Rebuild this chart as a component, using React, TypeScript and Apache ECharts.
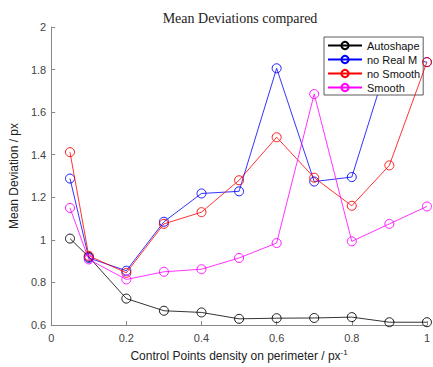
import React, { useEffect, useRef } from "react";
import * as echarts from "echarts";

const xValues = [0.05, 0.1, 0.2, 0.3, 0.4, 0.5, 0.6, 0.7, 0.8, 0.9, 1.0];
const autoshape = [1.006, 0.92, 0.724, 0.667, 0.659, 0.629, 0.632, 0.633, 0.637, 0.613, 0.613];
const noRealM = [1.288, 0.915, 0.855, 1.085, 1.218, 1.228, 1.806, 1.274, 1.295, 1.86, 1.835];
const noSmooth = [1.412, 0.925, 0.845, 1.075, 1.13, 1.28, 1.482, 1.292, 1.16, 1.35, 1.835];
const smooth = [1.15, 0.908, 0.814, 0.85, 0.862, 0.915, 0.985, 1.685, 0.993, 1.075, 1.157];

const seriesNames = ["Autoshape", "no Real M", "no Smooth", "Smooth"];
const seriesColors = ["#000000", "#0000ff", "#ff0000", "#ff00ff"];
const seriesData = [autoshape, noRealM, noSmooth, smooth];

export default function App() {
  const ref = useRef<HTMLDivElement>(null);
  useEffect(() => {
    if (!ref.current) return;
    const chart = echarts.init(ref.current, undefined, { renderer: "svg" });
    const font = "Liberation Sans, Arial, sans-serif";
    chart.setOption({
      animation: false,
      backgroundColor: "#ffffff",
      graphic: [
        {
          type: "text",
          x: 240,
          y: 18,
          style: {
            text: "Mean Deviations compared",
            textAlign: "center",
            textVerticalAlign: "middle",
            fontFamily: "Liberation Serif, serif",
            fontSize: 14,
            fill: "#222",
          },
        },
      ],
      grid: { left: 49, right: 3, top: 27, bottom: 41, containLabel: false },
      legend: {
        orient: "vertical",
        left: 324,
        top: 37,
        itemWidth: 34,
        itemHeight: 9,
        itemGap: 1,
        padding: [2, 3, 1, 3],
        backgroundColor: "#ffffff",
        borderColor: "#333",
        borderWidth: 0.8,
        borderRadius: 0,
        textStyle: { fontFamily: font, fontSize: 11, color: "#111", lineHeight: 13 },
        data: seriesNames,
      },
      xAxis: {
        type: "value",
        min: 0,
        max: 1,
        interval: 0.2,
        name: "Control Points density on perimeter / px{sup|-1}",
        nameLocation: "middle",
        nameGap: 23,
        nameTextStyle: {
          fontFamily: font,
          fontSize: 12,
          color: "#222",
          rich: {
            sup: { fontFamily: font, fontSize: 8, color: "#222", padding: [0, 0, 8, 0] },
          },
        },
        axisLine: { show: true, lineStyle: { color: "#888", width: 1 } },
        axisTick: { show: true, inside: true, length: 4, lineStyle: { color: "#888" } },
        axisLabel: { fontFamily: font, fontSize: 11, color: "#444", margin: 7 },
        splitLine: { show: false },
      },
      yAxis: {
        type: "value",
        min: 0.6,
        max: 2,
        interval: 0.2,
        name: "Mean Deviation / px",
        nameLocation: "middle",
        nameGap: 25,
        nameTextStyle: { fontFamily: font, fontSize: 12, color: "#222" },
        axisLine: { show: true, lineStyle: { color: "#888", width: 1 } },
        axisTick: { show: true, inside: true, length: 4, lineStyle: { color: "#888" } },
        axisLabel: {
          fontFamily: font,
          fontSize: 11,
          color: "#444",
          margin: 5,
          formatter: (v: number) => String(Math.round(v * 10) / 10),
        },
        splitLine: { show: false },
      },
      series: seriesNames.map((name, i) => ({
        name,
        type: "line",
        data: xValues.map((x, j) => [x, seriesData[i][j]]),
        symbol: "circle",
        symbolSize: 9,
        showAllSymbol: true,
        lineStyle: { color: seriesColors[i], width: 0.8 },
        itemStyle: { color: "rgba(255,255,255,0)", borderColor: seriesColors[i], borderWidth: 0.9 },
        emphasis: { disabled: true },
        z: 2 + i,
      })),
    });
    return () => chart.dispose();
  }, []);
  return <div ref={ref} style={{ width: 433, height: 367, position: "absolute", left: 0, top: 0 }} />;
}
